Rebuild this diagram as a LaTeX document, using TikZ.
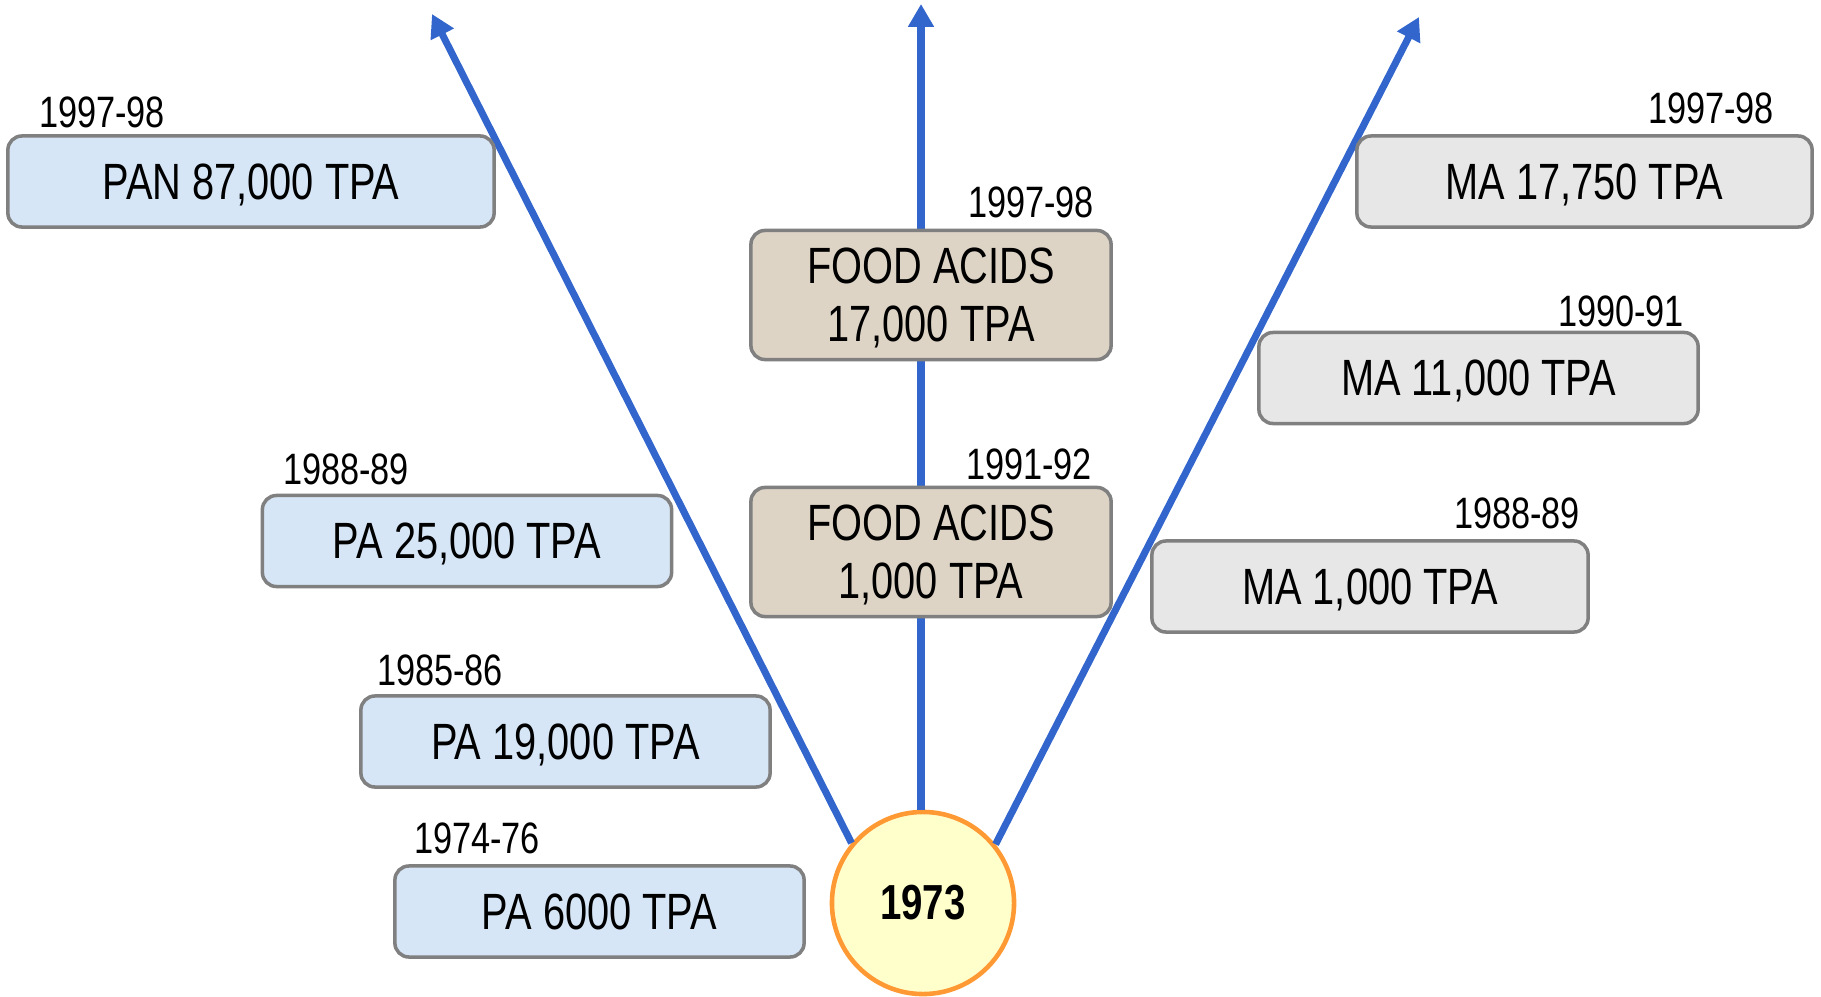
\documentclass[tikz,border=0pt]{standalone}
\usepackage{fontspec}
\setmainfont{Liberation Sans}[FakeStretch=0.78]
\usetikzlibrary{arrows.meta,positioning,calc}
\definecolor{branchblue}{HTML}{3366CC}
\definecolor{pafill}{HTML}{D6E6F6}
\definecolor{fafill}{HTML}{DDD4C6}
\definecolor{mafill}{HTML}{E7E7E7}
\definecolor{boxline}{HTML}{808080}
\definecolor{circfill}{HTML}{FFFFCC}
\definecolor{circline}{HTML}{FF9933}

\begin{document}
\begin{tikzpicture}[x=0.01cm, y=-0.01cm,
  block/.style={draw=boxline, line width=1pt, rounded corners=4pt, inner sep=0pt, align=center,
    minimum height=9.1mm, text depth=0pt, font=\fontsize{14.5}{16.5}\selectfont},
  pablock/.style={block, fill=pafill, minimum width=40.9mm},
  fablock/.style={block, fill=fafill, minimum width=36mm, minimum height=12.9mm},
  mablock/.style={block, fill=mafill},
  year/.style={font=\fontsize{12.5}{14}\selectfont, inner sep=0pt},
  origin/.style={circle, draw=circline, line width=1.3pt, fill=circfill, minimum size=18.2mm, inner sep=0pt,
    font=\bfseries\fontsize{14}{16}\selectfont},
  branch/.style={-{Triangle[width=7pt,length=6.5pt]}, line width=2pt, draw=branchblue}]
  \useasboundingbox (0,0) rectangle (1821,997);
  \node[origin] (start) at (923,903) {1973};
  \coordinate (tipL) at (432,14);
  \coordinate (tipC) at (921,4);
  \coordinate (tipR) at (1419,17);
  \draw[branch] (start.140) -- (tipL);
  \draw[branch] (start.north -| tipC) -- (tipC);
  \draw[branch] (start.39) -- (tipR);
  % phthalic branch
  \node[pablock, minimum width=48.6mm] (pan) at (251,181.5) {PAN 87,000 TPA};
  \node[pablock] (pa25) at (467,541) {PA 25,000 TPA};
  \node[pablock] (pa19) at (565.5,741.5) {PA 19,000 TPA};
  \node[pablock] (pa6) at (599.5,911.5) {PA 6000 TPA};
  \node[year] at (102,112) {1997-98};
  \node[year] at (346,469) {1988-89};
  \node[year] at (440,670) {1985-86};
  \node[year] at (477,838) {1974-76};
  % food acids branch
  \node[fablock] (fa17) at (931,295) {FOOD ACIDS\\17,000 TPA};
  \node[fablock] (fa1) at (931,552) {FOOD ACIDS\\1,000 TPA};
  \node[year] at (1031,202) {1997-98};
  \node[year] at (1029,464) {1991-92};
  % maleic branch
  \node[mablock, minimum width=45.5mm] (ma17) at (1584.5,181.5) {MA 17,750 TPA};
  \node[mablock, minimum width=43.9mm] (ma11) at (1478.5,378) {MA 11,000 TPA};
  \node[mablock, minimum width=43.6mm] (ma1) at (1370,586.5) {MA 1,000 TPA};
  \node[year] at (1711,108) {1997-98};
  \node[year] at (1621,311) {1990-91};
  \node[year] at (1517,513) {1988-89};
\end{tikzpicture}
\end{document}
